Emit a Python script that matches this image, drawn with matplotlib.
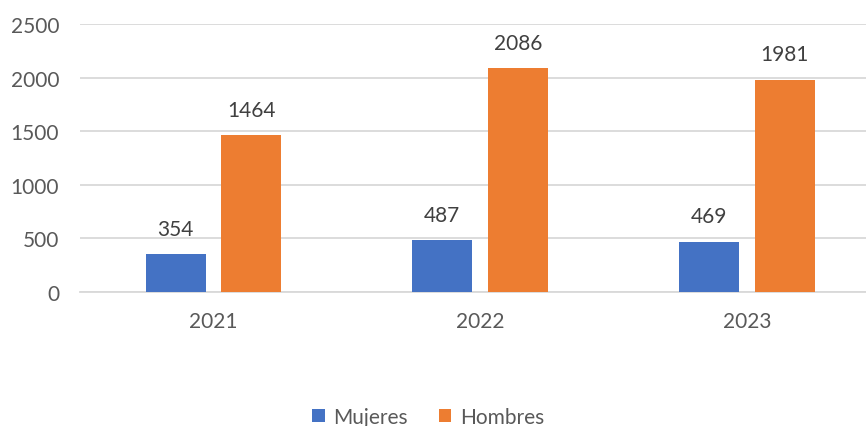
import matplotlib.pyplot as plt
import numpy as np

years = ["2021", "2022", "2023"]
mujeres = [354, 487, 469]
hombres = [1464, 2086, 1981]

plt.rcParams['font.family'] = ['Lato', 'DejaVu Sans']
txt = "#595959"

fig = plt.figure(figsize=(8.66, 4.27), dpi=100)
ax = fig.add_axes([80 / 866, 134 / 427, 786 / 866, 268 / 427])

x = np.arange(len(years))
w = 0.225
off = 0.142
b1 = ax.bar(x - off, mujeres, w, color="#4472C4", label="Mujeres", zorder=3)
b2 = ax.bar(x + off, hombres, w, color="#ED7D31", label="Hombres", zorder=3)

for bars in (b1, b2):
    for r in bars:
        ax.annotate(str(int(r.get_height())), (r.get_x() + r.get_width() / 2, r.get_height()),
                    xytext=(0, 11), textcoords="offset points", ha="center", va="bottom",
                    fontsize=15, color="#404040")

ax.set_xlim(-0.5, 2.446)
ax.set_ylim(0, 2500)
ax.set_yticks(range(0, 2501, 500))
ax.set_xticks(x, years)
ax.grid(axis="y", color="#D9D9D9", linewidth=1.3, zorder=0)
for s in ["top", "right", "left"]:
    ax.spines[s].set_visible(False)
ax.spines["bottom"].set_color("#D9D9D9")
ax.spines["bottom"].set_linewidth(1.3)
ax.tick_params(axis="both", length=0, labelsize=15, labelcolor=txt)
ax.tick_params(axis="y", pad=15)
ax.tick_params(axis="x", pad=14)

fig.legend(loc="center", bbox_to_anchor=(428 / 866, 1 - 418 / 427), ncol=2, frameon=False,
           fontsize=15, labelcolor=txt, handlelength=0.6, handleheight=0.6,
           handletextpad=0.4, columnspacing=1.5)

fig.savefig("out.png", dpi=100)
